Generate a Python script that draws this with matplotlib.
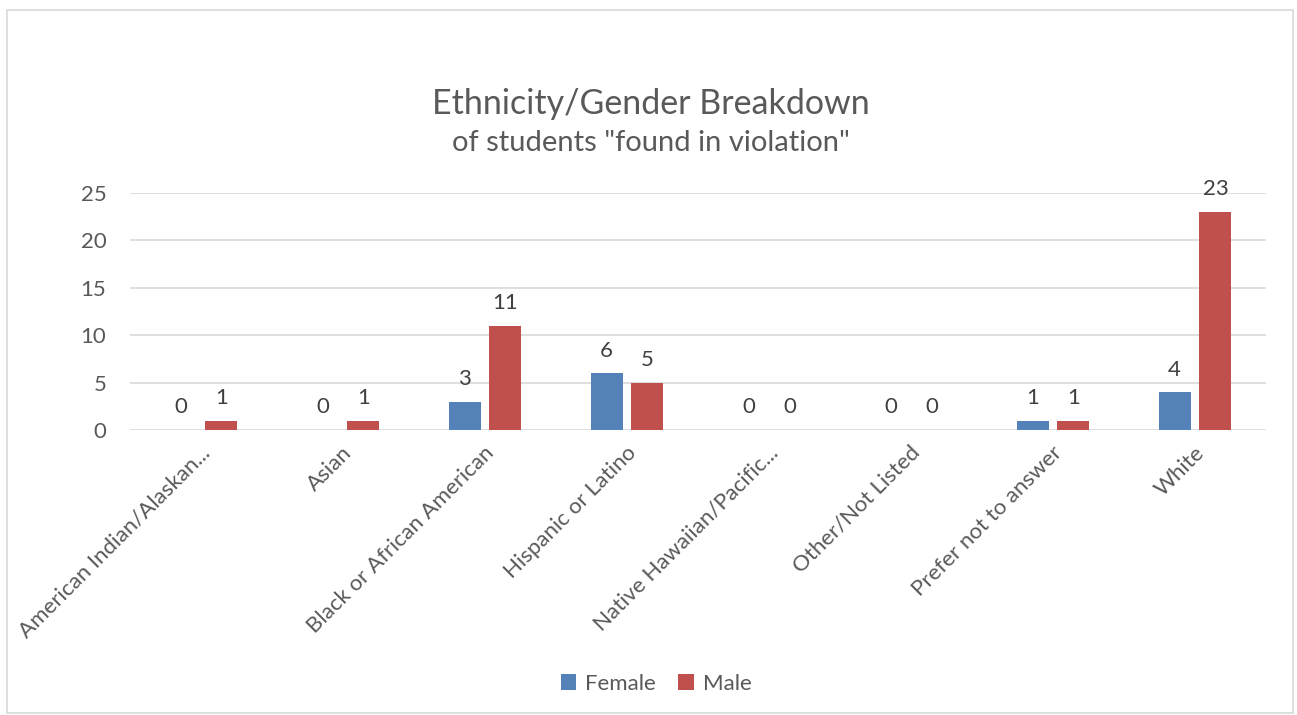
import matplotlib
matplotlib.use("Agg")
import matplotlib.pyplot as plt
import matplotlib.transforms as mtransforms
import numpy as np
from matplotlib.patches import Rectangle

categories = ["American Indian/Alaskan...", "Asian", "Black or African American",
              "Hispanic or Latino", "Native Hawaiian/Pacific...", "Other/Not Listed",
              "Prefer not to answer", "White"]
female = [0, 0, 3, 6, 0, 0, 1, 4]
male = [1, 1, 11, 5, 0, 0, 1, 23]
yticks = [0, 5, 10, 15, 20, 25]

plt.rcParams['font.family'] = ['Lato', 'DejaVu Sans']
TXT = '#595959'
GRID = '#D9D9D9'
C_F = '#5381B8'
C_M = '#C0504D'

fig = plt.figure(figsize=(12.97, 7.15), dpi=100)
fig.patches.append(Rectangle((7/1297, 2/715), 1286/1297, 703/715, transform=fig.transFigure,
                             fill=False, edgecolor=GRID, linewidth=1.2))

ax = fig.add_axes([130/1297, 1 - 430/715, 1136/1297, (430-193)/715])
x = np.arange(len(categories))
w = 0.225
off = 0.144
bf = ax.bar(x - off, female, w, color=C_F, label='Female', zorder=3)
bm = ax.bar(x + off, male, w, color=C_M, label='Male', zorder=3)
for rects, vals in ((bf, female), (bm, male)):
    for r, v in zip(rects, vals):
        ax.annotate(str(v), (r.get_x() + r.get_width()/2, v), xytext=(0, 9),
                    textcoords='offset points', ha='center', va='bottom',
                    fontsize=16, color='#404040')

ax.set_xlim(-0.5, len(categories) - 0.5)
ax.set_ylim(0, 25)
ax.set_yticks(yticks)
ax.yaxis.grid(True, color=GRID, linewidth=1.2, zorder=0)
ax.set_axisbelow(True)
for s in ax.spines.values():
    s.set_visible(False)
ax.tick_params(axis='both', length=0, labelsize=16, labelcolor=TXT)
ax.tick_params(axis='y', pad=17)
ax.set_xticks(x)
ax.set_xticklabels(categories, rotation=45, ha='right', va='center', rotation_mode='anchor',
                   fontsize=16, color=TXT)
ax.tick_params(axis='x', pad=14)
shift = mtransforms.ScaledTranslation(6/100, 0, fig.dpi_scale_trans)
for lbl in ax.get_xticklabels():
    lbl.set_transform(lbl.get_transform() + shift)

fig.text(651/1297, 1 - 104/715, 'Ethnicity/Gender Breakdown', ha='center', va='center',
         fontsize=24.5, color=TXT)
fig.text(651/1297, 1 - 143/715, 'of students "found in violation"', ha='center', va='center',
         fontsize=21, color=TXT)

fig.legend(handles=[bf, bm], labels=['Female', 'Male'], loc='center',
           bbox_to_anchor=(656/1297, 1 - 684/715), ncol=2, frameon=False,
           fontsize=16, labelcolor=TXT, handlelength=0.7, handleheight=0.7,
           handletextpad=0.4, columnspacing=1.0)

fig.savefig('out.png', dpi=100)
